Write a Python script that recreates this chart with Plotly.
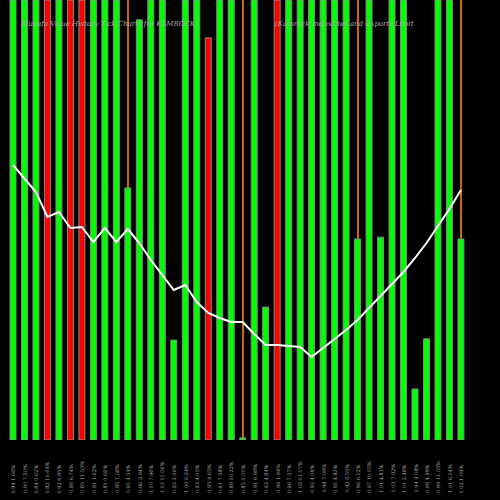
import plotly.graph_objects as go

heights = [100,100,100,100,100,100,100,100,100,100,57.3,95.5,100,100,22.7,100,100,91.4,100,100,
           0.5,100,30.2,100,100,100,100,100,100,100,45.7,100,46.1,100,100,11.6,23,100,100,45.7]
colors = ["g","g","g","r","g","r","r","g","g","g","g","g","g","g","g","g","g","r","g","g",
          "g","g","g","r","g","g","g","g","g","g","g","g","g","g","g","g","g","g","g","g"]
line_px = [165,178,192,217,212,228,227,242,228,242,229,243,260,275,290,285,302,313,318,322,
           322,334,345,345,346,347,357,348,339,330,320,308,296,285,272,258,243,226,209,190]
labels = ["0.94 1.66%","0.90 7.50%","0.84 0.62%","0.82 10.64%","0.93 6.85%","0.86 6.74%","0.85 11.53%",
          "0.81 1.62%","0.81 0.66%","0.85 7.08%","0.90 4.54%","0.86 2.94%","1.00 7.96%","1.03 11.06%",
          "0.93 3.06%","1.00 6.24%","0.93 4.00%","0.95 4.65%","0.91 7.58%","0.88 10.22%","0.85 0.00%",
          "0.91 6.98%","0.93 4.84%","0.96 1.94%","0.96 7.57%","1.02 11.07%","0.93 4.08%","0.98 7.09%",
          "0.95 4.83%","0.92 6.55%","0.96 6.12%","0.97 10.05%","1.01 4.81%","1.02 7.92%","1.01 2.48%",
          "0.94 4.08%","0.98 4.98%","0.99 11.05%","1.01 6.04%","1.02 1.09%"]
orange_idx = [10, 20, 30, 39]

x = list(range(len(heights)))
line_vals = [(440 - p) / 440 * 100 for p in line_px]
cmap = {"g": "#00ff00", "r": "#ff0000"}

fig = go.Figure()
fig.add_trace(go.Bar(x=[x[i] for i in orange_idx], y=[100]*len(orange_idx), width=0.08,
                     marker=dict(color="#cc6600", line=dict(width=0)), hoverinfo="skip"))
fig.add_trace(go.Bar(x=x, y=heights, width=0.52,
                     marker=dict(color=[cmap[c] for c in colors], line=dict(color="#888888", width=1))))
fig.add_trace(go.Scatter(x=x, y=line_vals, mode="lines", line=dict(color="white", width=2)))

ann = [dict(x=i, y=-0.125, xref="x", yref="paper", yanchor="bottom", xanchor="center",
            text=lab, textangle=-90, showarrow=False,
            font=dict(family="DejaVu Serif", size=5, color="#aaaaaa"))
       for i, lab in zip(x, labels)]
ann += [
    dict(x=0.036, y=0.958, xref="paper", yref="paper", xanchor="left",
         text="<i>Munafa Value History Tick Charts for KAMROCK</i>", showarrow=False,
         font=dict(family="DejaVu Serif", size=7, color="#aaaaaa")),
    dict(x=0.545, y=0.958, xref="paper", yref="paper", xanchor="left",
         text="<i>(Kamrock Industries and Exports Limit</i>", showarrow=False,
         font=dict(family="DejaVu Serif", size=7, color="#aaaaaa")),
]

fig.update_layout(
    width=500, height=500, paper_bgcolor="black", plot_bgcolor="black",
    margin=dict(l=0, r=0, t=0, b=60, pad=0), showlegend=False, barmode="overlay",
    xaxis=dict(range=[-1.13, 42.4], showticklabels=False, showgrid=False,
               zeroline=False, showline=False, ticks="", automargin=False),
    yaxis=dict(range=[0, 100], visible=False, automargin=False),
    annotations=ann,
)
fig.write_html("out.html", config={"displayModeBar": False},
               post_script="document.body.style.margin='0';document.body.style.background='black';")
